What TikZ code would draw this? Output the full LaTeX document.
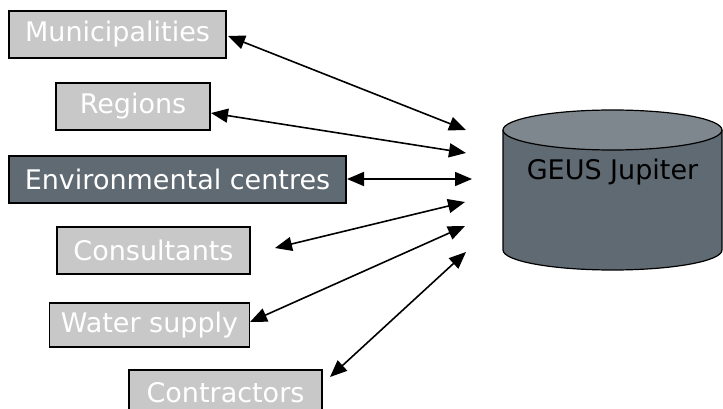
\documentclass[tikz,border=0pt]{standalone}
\usepackage{fontspec}
\setmainfont{DejaVu Sans}
\usetikzlibrary{arrows.meta}
\definecolor{lightbox}{HTML}{C8C8C8}
\definecolor{darkbox}{HTML}{5F6A73}
\definecolor{cyltop}{HTML}{7F878E}
\begin{document}
\begin{tikzpicture}[x=1pt,y=-1pt,
  box/.style={draw=black, line width=1.2pt, fill=lightbox, text=white,
    font=\fontsize{27}{32}\selectfont, inner sep=0pt},
  darkstyle/.style={box, fill=darkbox},
  link/.style={line width=1.6pt, {Triangle[length=17pt,width=14pt]}-{Triangle[length=17pt,width=14pt]}}
]
\useasboundingbox (0,0) rectangle (723,409);

% boxes
\node[box, minimum width=217pt, minimum height=47pt] (muni) at (117.5,34.5) {Municipalities};
\node[box, minimum width=154pt, minimum height=47pt] (reg) at (133,106.5) {Regions};
\node[darkstyle, minimum width=337pt, minimum height=47pt] (env) at (177.5,179.5) {Environmental centres};
\node[box, minimum width=193pt, minimum height=47pt] (cons) at (153.5,250.5) {Consultants};
\node[box, minimum width=200pt, minimum height=44pt] (water) at (149.5,325) {Water supply};
\node[box, minimum width=193pt, minimum height=45pt] (contr) at (225.5,392.5) {Contractors};

% database cylinder
\draw[line width=1.2pt, fill=darkbox] (503,130) -- (503,250)
  arc[start angle=180, end angle=360, x radius=109.5pt, y radius=20pt] -- (722,130);
\draw[line width=1.2pt, fill=cyltop] (612.5,130) ellipse [x radius=109.5pt, y radius=20pt];
\node[font=\fontsize{27}{32}\selectfont, text=black] (geus) at (612.5,172) {GEUS Jupiter};

% connector ends
\coordinate (a1) at (228,36);  \coordinate (j1) at (466,130);
\coordinate (a2) at (211,113); \coordinate (j2) at (466,153);
\coordinate (a3) at (347,179); \coordinate (j3) at (472,179);
\coordinate (a4) at (275,248); \coordinate (j4) at (465,202);
\coordinate (a5) at (250,322); \coordinate (j5) at (465,226);
\coordinate (a6) at (330,377); \coordinate (j6) at (466,252);

\draw[link] (a1) -- (j1);
\draw[link] (a2) -- (j2);
\draw[link] (a3) -- (j3);
\draw[link] (a4) -- (j4);
\draw[link] (a5) -- (j5);
\draw[link] (a6) -- (j6);
\end{tikzpicture}
\end{document}
